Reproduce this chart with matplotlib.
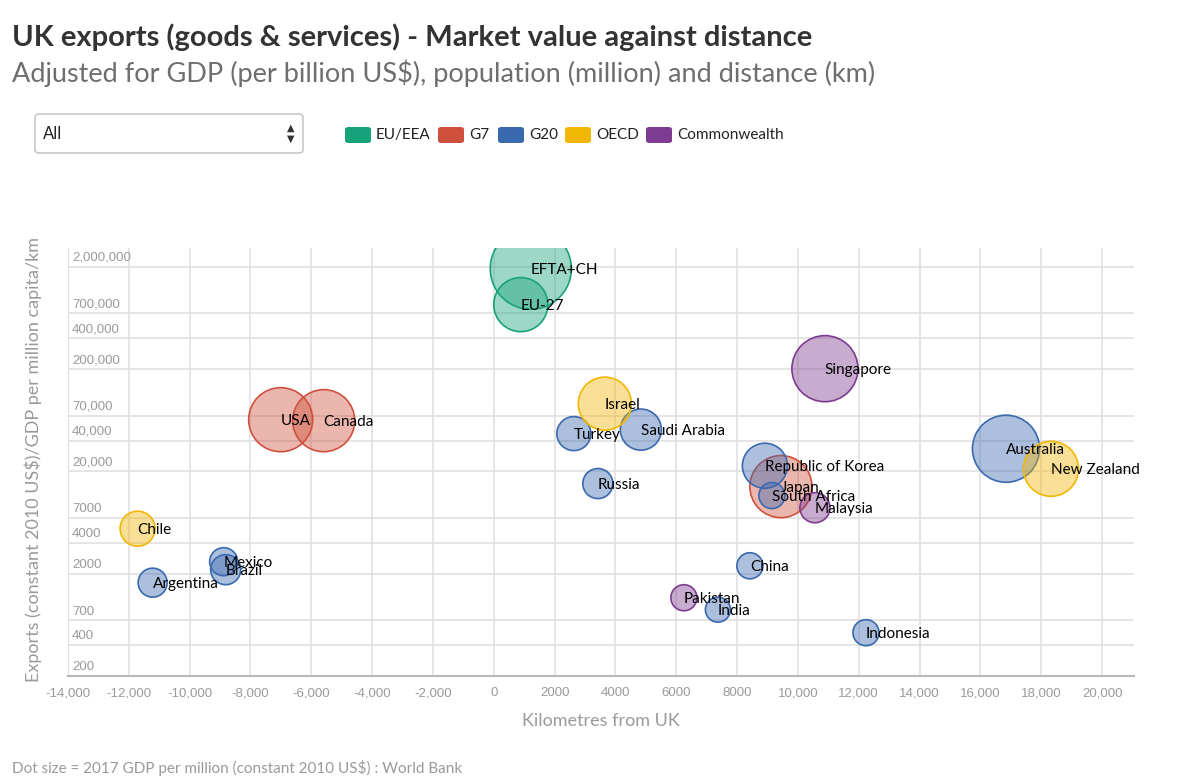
import numpy as np
import matplotlib
matplotlib.use('Agg')
import matplotlib.pyplot as plt
from matplotlib.patches import FancyBboxPatch
from matplotlib.ticker import FixedLocator, NullLocator

# data
names = ['EFTA+CH', 'EU-27', 'USA', 'Canada', 'Japan',
         'Turkey', 'Saudi Arabia', 'Russia', 'Mexico', 'Brazil', 'Argentina',
         'Republic of Korea', 'South Africa', 'Australia', 'China', 'India', 'Indonesia',
         'Israel', 'Chile', 'New Zealand',
         'Singapore', 'Malaysia', 'Pakistan']
groups = ['EU/EEA', 'EU/EEA', 'G7', 'G7', 'G7',
          'G20', 'G20', 'G20', 'G20', 'G20', 'G20',
          'G20', 'G20', 'G20', 'G20', 'G20', 'G20',
          'OECD', 'OECD', 'OECD',
          'Commonwealth', 'Commonwealth', 'Commonwealth']
km = [1217, 888, -7007, -5592, 9441,
      2632, 4836, 3421, -8882, -8816, -11217,
      8914, 9145, 16842, 8421, 7368, 12237,
      3651, -11711, 18322,
      10888, 10559, 6250]
exports = [1915000, 853000, 64000, 62600, 14200,
           46800, 51200, 15200, 2620, 2190, 1634,
           22700, 11600, 33300, 2390, 890, 530,
           91800, 5510, 21200,
           201800, 8830, 1164]
gdp = [85300, 37900, 53200, 50000, 50000,
       15000, 21900, 11700, 10200, 11700, 10900,
       26300, 8800, 58400, 8800, 8100, 8800,
       36500, 15900, 39300,
       56600, 11700, 8800]

legend_groups = ['EU/EEA', 'G7', 'G20', 'OECD', 'Commonwealth']
colors = {'EU/EEA': '#17a27a', 'G7': '#cf513d', 'G20': '#3a69b0',
          'OECD': '#f2b705', 'Commonwealth': '#7d3b91'}

y_ticks = [200, 400, 700, 2000, 4000, 7000, 20000, 40000, 70000,
           200000, 400000, 700000, 2000000]
x_ticks = list(range(-14000, 20001, 2000))


def fmt(v):
    v = int(v)
    if 0 <= v < 10000:
        return str(v)
    return '{:,}'.format(v)


def main():
    plt.rcParams['font.family'] = ['Lato', 'DejaVu Sans']
    W, H = 1200, 778
    fig = plt.figure(figsize=(12, 7.78), dpi=100)

    def fx(px):
        return px / W

    def fy(py):
        return 1 - py / H

    ax = fig.add_axes([fx(68), fy(676), fx(1134) - fx(68), fy(248) - fy(676)])
    ax.set_yscale('log')
    ax.set_xlim(-14000, 21050)
    ax.set_ylim(200, 3.05e6)

    for g in legend_groups:
        idx = [i for i, gg in enumerate(groups) if gg == g]
        xs = [km[i] for i in idx]
        ys = [exports[i] for i in idx]
        ss = [gdp[i] / 25.0 for i in idx]
        c = colors[g]
        ax.scatter(xs, ys, s=ss, facecolor=matplotlib.colors.to_rgba(c, 0.42),
                   edgecolor=c, linewidth=1.2, zorder=3)

    for i, n in enumerate(names):
        ax.annotate(n, (km[i], exports[i]), xytext=(0, -1), textcoords='offset points',
                    ha='left', va='center', fontsize=11, color='black', zorder=5)

    # grid & axes
    ax.xaxis.set_major_locator(FixedLocator(x_ticks))
    ax.yaxis.set_major_locator(FixedLocator(y_ticks))
    ax.yaxis.set_minor_locator(NullLocator())
    ax.grid(True, color='#e0e0e0', linewidth=1.2, zorder=0)
    ax.set_axisbelow(True)
    for sp in ['top', 'right']:
        ax.spines[sp].set_visible(False)
    ax.spines['left'].set_color('#e0e0e0')
    ax.spines['bottom'].set_color('#b8b8b8')
    ax.spines['bottom'].set_linewidth(1.5)
    ax.tick_params(axis='both', length=0)
    ax.set_xticklabels([fmt(v) for v in x_ticks], fontsize=9.5, color='#9a9a9a',
                       family='Liberation Sans')
    ax.tick_params(axis='x', pad=8)
    ax.set_yticklabels([])
    for v in y_ticks:
        ax.annotate(fmt(v), (0, v), xycoords=('axes fraction', 'data'),
                    xytext=(3, 2), textcoords='offset points', ha='left', va='bottom',
                    fontsize=9.5, color='#9a9a9a', family='Liberation Sans')

    ax.set_xlabel('Kilometres from UK', fontsize=13, color='#9a9a9a', labelpad=10)
    fig.text(fx(33), fy(460), 'Exports (constant 2010 US$)/GDP per million capita/km',
             rotation=90, ha='center', va='center', fontsize=13, color='#9a9a9a')

    # titles
    fig.text(fx(12), fy(46), 'UK exports (goods & services) - Market value against distance',
             fontsize=21, fontweight='bold', color='#333333', ha='left', va='baseline')
    fig.text(fx(12), fy(82), 'Adjusted for GDP (per billion US$), population (million) and distance (km)',
             fontsize=19.5, color='#6e6e6e', ha='left', va='baseline')
    fig.text(fx(12), fy(768), 'Dot size = 2017 GDP per million (constant 2010 US$) : World Bank',
             fontsize=11, color='#9a9a9a', ha='left', va='center')

    # dropdown
    box = FancyBboxPatch((fx(35), fy(153)), fx(268), 39 / H,
                         boxstyle='round,pad=0,rounding_size=0.004',
                         transform=fig.transFigure, facecolor='white',
                         edgecolor='#c8c8c8', linewidth=1.2)
    fig.patches.append(box)
    fig.text(fx(43), fy(134), 'All', fontsize=12, color='#222222', ha='left', va='center')
    fig.text(fx(291), fy(128), '\u25b2', fontsize=7, color='#333333', ha='center',
             va='center', family='DejaVu Sans')
    fig.text(fx(291), fy(139), '\u25bc', fontsize=7, color='#333333', ha='center',
             va='center', family='DejaVu Sans')

    # legend
    sw_x = [345, 438, 498, 565, 646]
    for g, x0 in zip(legend_groups, sw_x):
        sw = FancyBboxPatch((fx(x0), fy(143)), fx(26), 16 / H,
                            boxstyle='round,pad=0,rounding_size=0.003',
                            transform=fig.transFigure, facecolor=colors[g],
                            edgecolor='none')
        fig.patches.append(sw)
        fig.text(fx(x0 + 31), fy(135), g, fontsize=11, color='#222222',
                 ha='left', va='center')

    fig.savefig('out.png', dpi=100)


if __name__ == '__main__':
    main()
